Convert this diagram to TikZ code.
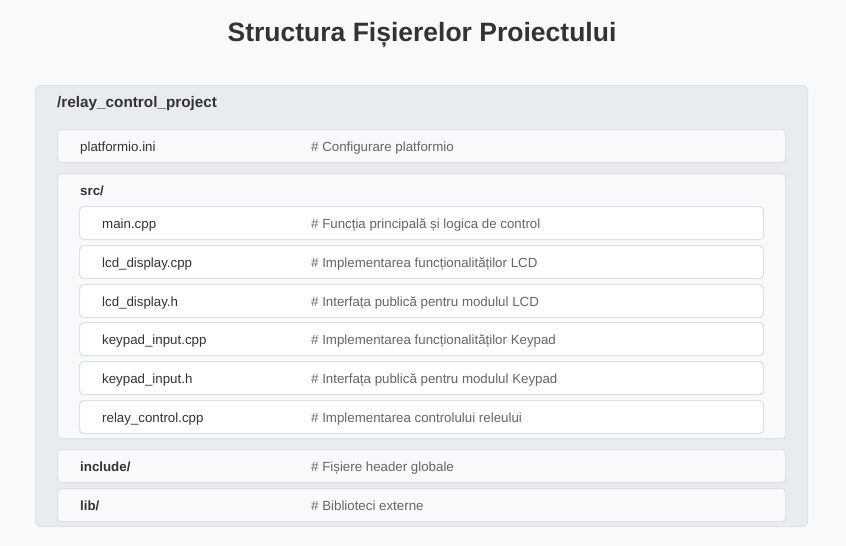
\documentclass[tikz,border=0pt]{standalone}
\usepackage{fontspec}
\setmainfont{Liberation Sans}
\definecolor{bg}{HTML}{F8F9FA}
\definecolor{outerfill}{HTML}{E9ECEF}
\definecolor{bd}{HTML}{DEE2E6}
\definecolor{txt}{HTML}{333333}
\definecolor{cmt}{HTML}{666666}
\tikzset{
  box/.style={draw=bd, line width=1.2pt, rounded corners=4pt, anchor=north west, inner sep=0pt, minimum height=33pt},
  fname/.style={anchor=base west, inner sep=0pt, text=txt, font=\fontsize{13.3}{15}\selectfont},
  dname/.style={fname, font=\fontsize{13.3}{15}\selectfont\bfseries},
  cmtx/.style={anchor=base west, inner sep=0pt, text=cmt, font=\fontsize{13.3}{15}\selectfont},
}
\begin{document}
\begin{tikzpicture}[x=1pt,y=-1pt]
\useasboundingbox[fill=bg] (0,0) rectangle (846,546);
\node[anchor=center, inner sep=0pt, text=txt, font=\fontsize{26.5}{30}\selectfont\bfseries] (title) at (422,34.5) {Structura Fișierelor Proiectului};
% outer container
\node[box, fill=outerfill, rounded corners=6pt, minimum width=772pt, minimum height=441pt] (outer) at (35,85) {};
\node[dname, font=\fontsize{15.3}{17}\selectfont\bfseries] (root) at (57,107.5) {/relay\_control\_project};
% platformio
\node[box, fill=bg, minimum width=728pt] (pio) at (57,129) {};
\node[fname] (pion) at (80,151.5) {platformio.ini};
\node[cmtx] (pioc) at (311,151.5) {\# Configurare platformio};
% src
\node[box, fill=bg, minimum width=728pt, minimum height=265pt] (src) at (57,173) {};
\node[dname] (srcn) at (80,195) {src/};
\foreach \y/\n/\c [count=\i] in {206/main.cpp/{\# Funcția principală și logica de control},
  245/lcd\_display.cpp/{\# Implementarea funcționalităților LCD},
  284/lcd\_display.h/{\# Interfața publică pentru modulul LCD},
  322/keypad\_input.cpp/{\# Implementarea funcționalităților Keypad},
  361/keypad\_input.h/{\# Interfața publică pentru modulul Keypad},
  400/relay\_control.cpp/{\# Implementarea controlului releului}}{
  \node[box, fill=white, minimum width=684pt] (f\i) at (79,\y) {};
  \node[fname] (f\i n) at (102,\y+22.5) {\n};
  \node[cmtx] (f\i c) at (311,\y+22.5) {\c};
}
% include
\node[box, fill=bg, minimum width=728pt] (inc) at (57,449) {};
\node[dname] (incn) at (80,471) {include/};
\node[cmtx] (incc) at (311,471) {\# Fișiere header globale};
% lib
\node[box, fill=bg, minimum width=728pt] (lib) at (57,488) {};
\node[dname] (libn) at (80,510) {lib/};
\node[cmtx] (libc) at (311,510) {\# Biblioteci externe};
\end{tikzpicture}
\end{document}
